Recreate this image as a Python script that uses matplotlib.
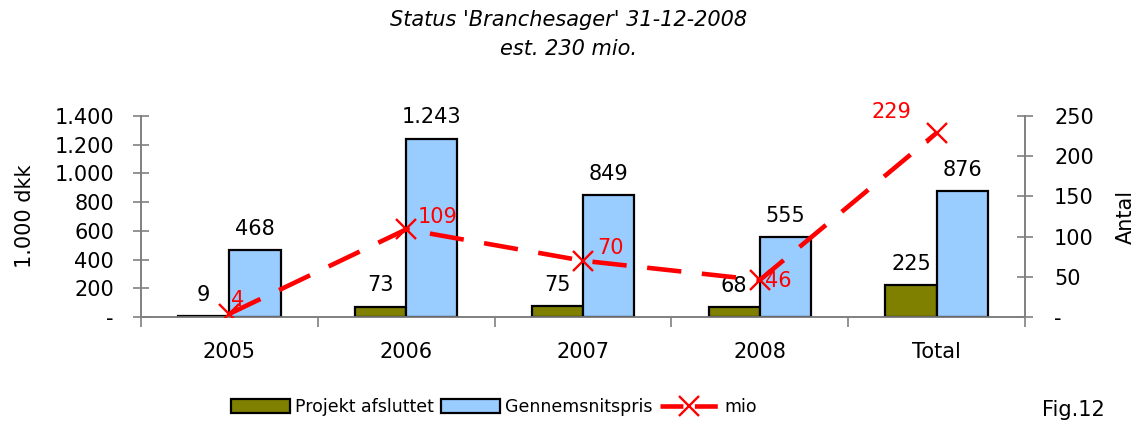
import matplotlib
matplotlib.use("Agg")
import matplotlib.pyplot as plt
from matplotlib.ticker import FuncFormatter, FixedLocator
from matplotlib.lines import Line2D
from matplotlib.patches import Patch
import numpy as np

categories = ["2005", "2006", "2007", "2008", "Total"]
projekt_afsluttet = [9, 73, 75, 68, 225]
gennemsnitspris = [468, 1243, 849, 555, 876]
mio = [4, 109, 70, 46, 229]

title = "Status 'Branchesager' 31-12-2008\nest. 230 mio."
left_ylabel = "1.000 dkk"
right_ylabel = "Antal"
legend_labels = ["Projekt afsluttet", "Gennemsnitspris", "mio"]

plt.rcParams['font.family'] = ['DejaVu Sans']
FS = 15

fig = plt.figure(figsize=(11.38, 4.21), dpi=100)
ax = fig.add_axes([0.1239, 0.247, 0.7768, 0.4774])
ax2 = ax.twinx()

x = np.arange(len(categories))
w = 0.29
olive = "#808000"
blue = "#99CCFF"
red = "#FF0000"

ax.bar(x - w / 2, projekt_afsluttet, w, color=olive, edgecolor="black", linewidth=1.6, zorder=3)
ax.bar(x + w / 2, gennemsnitspris, w, color=blue, edgecolor="black", linewidth=1.6, zorder=3)

def thou(v):
    return f"{int(round(v)):,}".replace(",", ".")

for xi, v in zip(x - w / 2, projekt_afsluttet):
    ax.annotate(thou(v), (xi, v), xytext=(0, 8), textcoords="offset points",
                ha="center", va="bottom", fontsize=FS)
for xi, v in zip(x + w / 2, gennemsnitspris):
    ax.annotate(thou(v), (xi, v), xytext=(0, 8), textcoords="offset points",
                ha="center", va="bottom", fontsize=FS)

ax.set_xlim(-0.5, len(categories) - 0.5)
ax.set_ylim(0, 1400)
ax.yaxis.set_major_locator(FixedLocator(np.arange(0, 1401, 200)))
ax.yaxis.set_major_formatter(FuncFormatter(lambda v, p: "-" if v == 0 else thou(v)))
ax.set_xticks(x)
ax.set_xticklabels(categories, fontsize=FS)
ax.tick_params(axis="x", length=0, pad=18)
ax.set_xticks(np.arange(-0.5, len(categories)), minor=True)
ax.tick_params(axis="x", which="minor", length=7, direction="out", color="#808080", width=1.2)
ax.tick_params(axis="y", labelsize=FS, direction="inout", length=12, color="#808080", width=1.2, pad=13.5)
ax.set_ylabel(left_ylabel, fontsize=FS, labelpad=14)

ax2.set_ylim(0, 250)
ax2.yaxis.set_major_locator(FixedLocator(np.arange(0, 251, 50)))
ax2.yaxis.set_major_formatter(FuncFormatter(lambda v, p: "-" if v == 0 else f"{int(v)}"))
ax2.tick_params(axis="y", labelsize=FS, direction="inout", length=12, color="#808080", width=1.2, pad=15)
ax2.set_ylabel(right_ylabel, fontsize=FS, labelpad=16)

for a in (ax, ax2):
    a.spines["top"].set_visible(False)
    for s in ("left", "right", "bottom"):
        a.spines[s].set_color("#808080")
        a.spines[s].set_linewidth(1.2)

line, = ax2.plot(x, mio, color=red, linewidth=3.3, marker="x", markersize=14,
                 markeredgewidth=1.7, zorder=5)
line.set_dashes([7.5, 4.5])

label_offsets = [(1, 3), (8, 2), (10, 2), (4, -8), (-47, 8)]
for xi, v, off in zip(x, mio, label_offsets):
    ax2.annotate(str(v), (xi, v), xytext=off, textcoords="offset points",
                 ha="left", va="bottom", fontsize=FS, color=red)

fig.text(0.5, 0.918, title, ha="center", va="center", fontsize=FS, style="italic",
         linespacing=1.55)

handles = [
    Patch(facecolor=olive, edgecolor="black", linewidth=1.6),
    Patch(facecolor=blue, edgecolor="black", linewidth=1.6),
    Line2D([0], [0], color=red, linewidth=3.3, marker="x", markersize=14,
           markeredgewidth=1.7, dashes=[5, 2.5]),
]
fig.legend(handles, legend_labels, loc="center", bbox_to_anchor=(0.434, 0.033),
           ncol=3, frameon=False, fontsize=12.5, handlelength=3.4, handleheight=0.85,
           handletextpad=0.3, columnspacing=0.4)

fig.text(0.916, 0.026, "Fig.12", ha="left", va="center", fontsize=FS)

fig.savefig("out.png", dpi=100)
